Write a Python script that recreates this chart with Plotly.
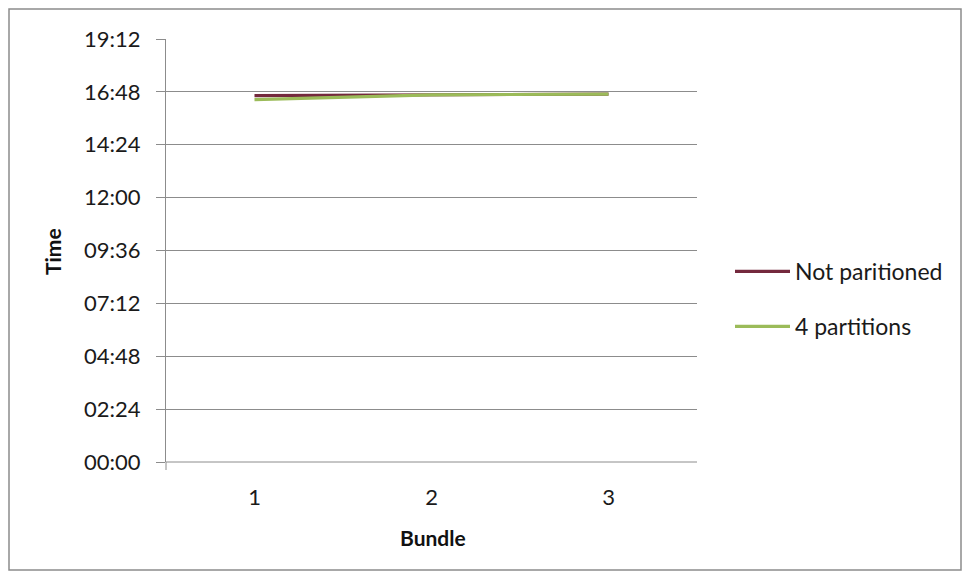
import plotly.graph_objects as go

bundles = ["1", "2", "3"]
not_partitioned_min = [998, 1001, 1002]   # minutes (16:38, 16:41, 16:42)
four_partitions_min = [987, 1000, 1002]   # minutes (16:27, 16:40, 16:42)
series_names = ["Not paritioned", "4 partitions"]
tick_vals = [0, 144, 288, 432, 576, 720, 864, 1008, 1152]
tick_text = ["00:00", "02:24", "04:48", "07:12", "09:36", "12:00", "14:24", "16:48", "19:12"]

FONT = "Lato"
OFF = 8  # page body margin
W, H = 970 - 2 * OFF, 579 - 2 * OFF
fig = go.Figure()
fig.add_trace(go.Scatter(x=bundles, y=not_partitioned_min, mode="lines", name=series_names[0],
                         line=dict(color="#74293d", width=3.2), legendgroup="a"))
fig.add_trace(go.Scatter(x=bundles, y=four_partitions_min, mode="lines", name=series_names[1],
                         line=dict(color="#9bbb59", width=3.2), legendgroup="b"))

# target plot area in page pixels
PX0, PX1, PY0, PY1 = 166, 697, 39, 462
L, T = PX0 - OFF, PY0 - OFF
R, B = W - (PX1 - OFF), H - (PY1 - OFF)
PW, PH = PX1 - PX0, PY1 - PY0

def px(x):
    return (x - PX0) / PW

def py(y):
    return (PY1 - y) / PH

fig.update_layout(
    width=W, height=H,
    margin=dict(l=L, r=R, t=T, b=B),
    paper_bgcolor="white", plot_bgcolor="white",
    font=dict(family=FONT, size=22, color="#1a1a1a"),
    showlegend=True,
    legend=dict(x=px(730), xanchor="left", y=py(299), yanchor="middle",
                font=dict(size=23, family=FONT, color="#1a1a1a"), tracegroupgap=22,
                itemwidth=55, traceorder="grouped", bgcolor="rgba(0,0,0,0)"),
    xaxis=dict(type="category", range=[-0.5, 2.5], showgrid=False, showline=False,
               ticks="", zeroline=False, tickfont=dict(size=22, color="#1a1a1a"), ticklabelstandoff=20),
    yaxis=dict(range=[0, 1152], tickvals=tick_vals, ticktext=tick_text, showgrid=True,
               gridcolor="#8c8c8c", gridwidth=1, showline=True, linecolor="#8c8c8c", linewidth=1,
               ticks="outside", ticklen=9, tickcolor="#8c8c8c", zeroline=False,
               tickfont=dict(size=22, color="#1a1a1a"), ticklabelstandoff=11),
    shapes=[dict(type="rect", xref="paper", yref="paper",
                 x0=px(9), x1=px(961), y0=py(570), y1=py(9),
                 line=dict(color="#8c8c8c", width=1.5), fillcolor="rgba(0,0,0,0)", layer="below"),
            dict(type="line", xref="paper", yref="paper", x0=0, x1=1, y0=0, y1=0,
                 line=dict(color="#8c8c8c", width=1)),
            dict(type="line", xref="paper", yref="paper", x0=0, x1=0, y0=py(470), y1=0,
                 line=dict(color="#8c8c8c", width=1))],
    annotations=[dict(text="<b>Time</b>", xref="paper", yref="paper", x=px(53), y=py(252),
                      xanchor="center", yanchor="middle",
                      textangle=-90, showarrow=False, font=dict(size=21, family=FONT, color="#111111")),
                 dict(text="<b>Bundle</b>", xref="paper", yref="paper", x=px(433), y=py(537),
                      xanchor="center", yanchor="middle",
                      showarrow=False, font=dict(size=21, family=FONT, color="#111111"))],
)

fig.write_html("out.html")
